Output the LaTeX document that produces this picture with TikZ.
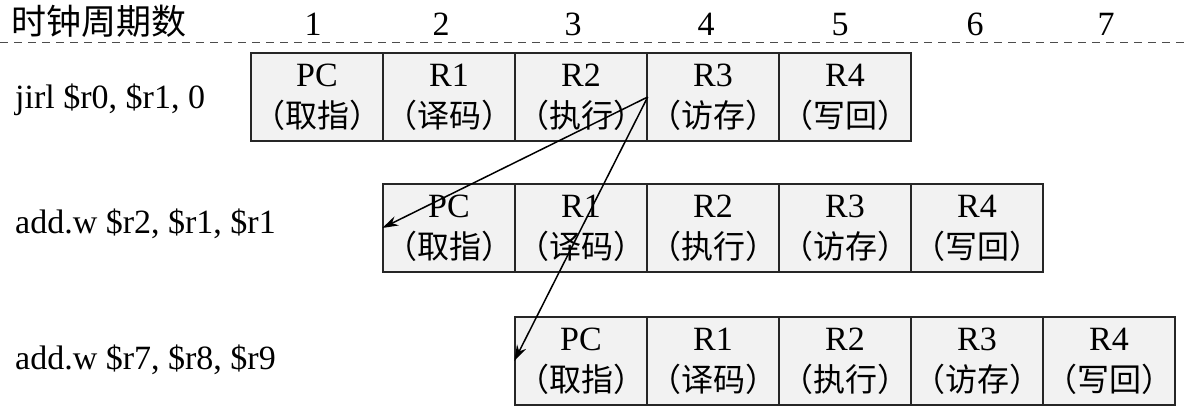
\documentclass[tikz,border=0pt]{standalone}
\usepackage{fontspec}
\setmainfont{Liberation Serif}
\newfontfamily\cjk{Noto Sans CJK SC}
\usetikzlibrary{arrows.meta}
\begin{document}
\begin{tikzpicture}[x=1pt,y=-1pt,
  stagebox/.style={draw=black!85, line width=1.4pt, fill=black!5, rectangle,
    minimum width=132pt, minimum height=88pt, inner sep=0pt, align=center,
    font=\fontsize{34}{44}\selectfont},
  instr/.style={anchor=base west, inner sep=0pt, font=\fontsize{34}{40}\selectfont},
  hdr/.style={anchor=base, inner sep=0pt, font=\fontsize{34}{40}\selectfont},
  arr/.style={-{Stealth[length=16pt,width=10pt]}, line width=1.5pt, black},
  dline/.style={dash pattern=on 8pt off 6pt, line width=1pt, black!70}]
\useasboundingbox (0,0) rectangle (1184,410);
% header
\node[hdr, anchor=base west] (title) at (11,34) {\cjk\fontsize{35}{40}\selectfont 时钟周期数};
\foreach \n/\x in {1/313,2/441,3/573,4/706,5/840,6/975,7/1106}
  \node[hdr] (n\n) at (\x,35) {\n};
\coordinate (dl) at (0,42);
\coordinate (dr) at (1184,42);
\draw[dline] (dl) -- (dr);
% instruction labels
\node[instr] (i1) at (15,108) {jirl \$r0, \$r1, 0};
\node[instr] (i2) at (15,233) {add.w \$r2, \$r1, \$r1};
\node[instr] (i3) at (15,369) {add.w \$r7, \$r8, \$r9};
% stages
\foreach \i/\t/\c in {1/PC/取指,2/R1/译码,3/R2/执行,4/R3/访存,5/R4/写回}{
  \node[stagebox] (a\i) at ({251+132*(\i-1)+66},97) {\t\\[-3pt]{\cjk\fontsize{32}{32}\selectfont （\c）}};
  \node[stagebox] (b\i) at ({383+132*(\i-1)+66},228) {\t\\[-3pt]{\cjk\fontsize{32}{32}\selectfont （\c）}};
  \node[stagebox] (c\i) at ({515+132*(\i-1)+66},361) {\t\\[-3pt]{\cjk\fontsize{32}{32}\selectfont （\c）}};
}
% arrows
\draw[arr] (a3.east) -- (b1.west);
\draw[arr] (a3.east) -- (c1.west);
\end{tikzpicture}
\end{document}
